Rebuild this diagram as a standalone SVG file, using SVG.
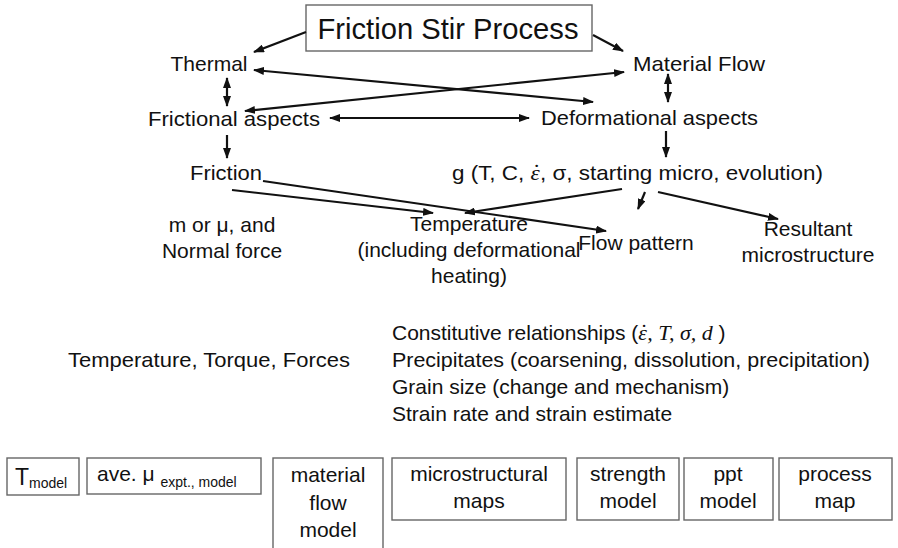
<svg xmlns="http://www.w3.org/2000/svg" width="898" height="548" viewBox="0 0 898 548">
  <style>
    text { font-family: "Liberation Sans", Arial, sans-serif; font-size: 21px; fill: #111; }
    .mid { text-anchor: middle; }
    .title { font-size: 29px; }
    .sub { font-size: 14px; }
    .math { font-family: "Liberation Serif", "Times New Roman", serif; font-style: italic; font-size: 22px; }
    .box { fill: #fff; stroke: #666; stroke-width: 1.4; }
    .arrow { fill: none; stroke: #111; stroke-width: 2.2; marker-end: url(#ah); }
    .both { fill: none; stroke: #111; stroke-width: 2.2; marker-start: url(#ah); marker-end: url(#ah); }
  </style>
  <defs>
    <marker id="ah" markerUnits="userSpaceOnUse" markerWidth="11" markerHeight="8" refX="10" refY="4" orient="auto-start-reverse">
      <path d="M0,0 L11,4 L0,8 z" fill="#111"/>
    </marker>
  </defs>
  <rect width="898" height="548" fill="#fff"/>

  <!-- top of the hierarchy -->
  <g id="fsp">
    <rect class="box" x="306" y="5" width="286" height="46"/>
    <text class="title mid" x="448" y="39" textLength="261" lengthAdjust="spacingAndGlyphs">Friction Stir Process</text>
  </g>
  <g id="thermal"><text class="mid" x="209" y="71">Thermal</text></g>
  <g id="material-flow"><text x="633" y="71" textLength="132" lengthAdjust="spacingAndGlyphs">Material Flow</text></g>
  <g id="frictional"><text x="148" y="126" textLength="172" lengthAdjust="spacingAndGlyphs">Frictional aspects</text></g>
  <g id="deformational"><text x="541" y="125" textLength="217" lengthAdjust="spacingAndGlyphs">Deformational aspects</text></g>
  <g id="friction"><text x="190" y="180" textLength="72" lengthAdjust="spacingAndGlyphs">Friction</text></g>
  <g id="g-function"><text x="452" y="180" textLength="371" lengthAdjust="spacingAndGlyphs">g (T, C, <tspan class="math">ε</tspan><tspan class="math" dx="-8" dy="-1">˙</tspan><tspan dx="1" dy="1">, σ, starting micro, evolution)</tspan></text></g>

  <!-- outcomes -->
  <g id="m-mu">
    <text class="mid" x="222" y="232">m or μ, and</text>
    <text class="mid" x="222" y="258">Normal force</text>
  </g>
  <g id="temperature">
    <text class="mid" x="469" y="231">Temperature</text>
    <text class="mid" x="469" y="257">(including deformational</text>
    <text class="mid" x="469" y="283">heating)</text>
  </g>
  <g id="flow-pattern"><text class="mid" x="636" y="250">Flow pattern</text></g>
  <g id="resultant">
    <text class="mid" x="808" y="236">Resultant</text>
    <text class="mid" x="808" y="262">microstructure</text>
  </g>

  <!-- measured quantities and relationships -->
  <g id="measured"><text x="68" y="367" textLength="282" lengthAdjust="spacingAndGlyphs">Temperature, Torque, Forces</text></g>
  <g id="relationships">
    <text x="392" y="340">Constitutive relationships (<tspan class="math">ε</tspan><tspan class="math" dx="-8" dy="-1">˙</tspan><tspan class="math" dx="1" dy="1">, T, σ, d</tspan> )</text>
    <text x="392" y="367" textLength="478" lengthAdjust="spacingAndGlyphs">Precipitates (coarsening, dissolution, precipitation)</text>
    <text x="392" y="394">Grain size (change and mechanism)</text>
    <text x="392" y="421">Strain rate and strain estimate</text>
  </g>

  <!-- model boxes -->
  <g id="t-model">
    <rect class="box" x="7" y="458" width="72" height="37"/>
    <text x="15" y="485" style="font-size:23px">T<tspan class="sub" dy="3">model</tspan></text>
  </g>
  <g id="ave-mu">
    <rect class="box" x="87" y="458" width="174" height="36"/>
    <text x="97" y="481">ave. μ <tspan class="sub" dy="6">expt., model</tspan></text>
  </g>
  <g id="flow-model">
    <rect class="box" x="273" y="458" width="110" height="92"/>
    <text class="mid" x="328" y="482">material</text>
    <text class="mid" x="328" y="510">flow</text>
    <text class="mid" x="328" y="537">model</text>
  </g>
  <g id="micro-maps">
    <rect class="box" x="392" y="458" width="174" height="62"/>
    <text class="mid" x="479" y="481">microstructural</text>
    <text class="mid" x="479" y="508">maps</text>
  </g>
  <g id="strength-model">
    <rect class="box" x="577" y="458" width="102" height="62"/>
    <text class="mid" x="628" y="481">strength</text>
    <text class="mid" x="628" y="508">model</text>
  </g>
  <g id="ppt-model">
    <rect class="box" x="684" y="458" width="89" height="62"/>
    <text class="mid" x="728" y="481">ppt</text>
    <text class="mid" x="728" y="508">model</text>
  </g>
  <g id="process-map">
    <rect class="box" x="779" y="458" width="113" height="62"/>
    <text class="mid" x="835" y="481">process</text>
    <text class="mid" x="835" y="508">map</text>
  </g>

  <!-- connectors -->
  <g id="connectors">
    <line class="arrow" x1="306" y1="32" x2="254" y2="52"/>
    <line class="arrow" x1="593" y1="35" x2="623" y2="51"/>
    <line class="both" x1="227" y1="78" x2="227" y2="106"/>
    <line class="both" x1="668" y1="74" x2="668" y2="102"/>
    <line class="both" x1="254" y1="70" x2="593" y2="102"/>
    <line class="both" x1="624" y1="72" x2="245" y2="111"/>
    <line class="both" x1="330" y1="118" x2="529" y2="118"/>
    <line class="arrow" x1="227" y1="135" x2="227" y2="158"/>
    <line class="arrow" x1="666" y1="131" x2="666" y2="157"/>
    <line class="arrow" x1="232" y1="190" x2="433" y2="213"/>
    <line class="arrow" x1="263" y1="181" x2="606" y2="231"/>
    <line class="arrow" x1="622" y1="189" x2="465" y2="213"/>
    <line class="arrow" x1="645" y1="192" x2="638" y2="209"/>
    <line class="arrow" x1="658" y1="192" x2="778" y2="219"/>
  </g>
</svg>
